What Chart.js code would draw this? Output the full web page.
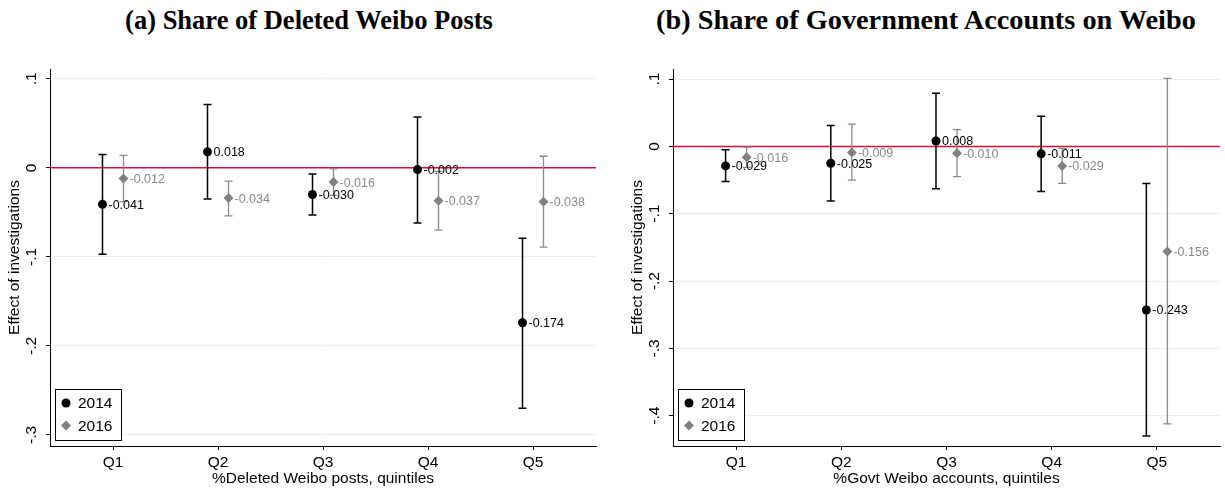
<!DOCTYPE html>
<html>
<head>
<meta charset="utf-8">
<script src="https://cdn.jsdelivr.net/npm/chart.js@4.4.0/dist/chart.umd.min.js"></script>
<style>
  body { margin: 0; background: #fff; width: 1225px; height: 489px; overflow: hidden; position: relative; }
  canvas { position: absolute; top: 0; }
  .ttl { position: absolute; font-family: "Liberation Serif", "Times New Roman", serif; font-weight: bold; line-height: 1; color: #000; white-space: nowrap; transform: translateX(-50%); }
</style>
</head>
<body>
<div class="ttl" style="left:309px; top:7px; font-size:26.5px">(a) Share of Deleted Weibo Posts</div>
<div class="ttl" style="left:926px; top:6px; font-size:28.3px">(b) Share of Government Accounts on Weibo</div>
<canvas id="chartA" width="612" height="489" style="left:0"></canvas>
<canvas id="chartB" width="613" height="489" style="left:612px"></canvas>
<script>
// data
const quintiles = ['Q1', 'Q2', 'Q3', 'Q4', 'Q5'];
const years = ['2014', '2016'];

const deleted2014 = [-0.041, 0.018, -0.030, -0.002, -0.174];
const deleted2014Lo = [-0.097, -0.035, -0.053, -0.062, -0.270];
const deleted2014Hi = [0.015, 0.071, -0.007, 0.057, -0.079];
const deleted2016 = [-0.012, -0.034, -0.016, -0.037, -0.038];
const deleted2016Lo = [-0.038, -0.054, -0.031, -0.070, -0.089];
const deleted2016Hi = [0.014, -0.015, -0.001, -0.004, 0.013];

const govt2014 = [-0.029, -0.025, 0.008, -0.011, -0.243];
const govt2014Lo = [-0.052, -0.081, -0.063, -0.067, -0.430];
const govt2014Hi = [-0.005, 0.031, 0.079, 0.045, -0.055];
const govt2016 = [-0.016, -0.009, -0.010, -0.029, -0.156];
const govt2016Lo = [-0.031, -0.050, -0.045, -0.055, -0.412];
const govt2016Hi = [-0.001, 0.033, 0.025, -0.003, 0.101];

const ticksDeleted = [-0.3, -0.2, -0.1, 0, 0.1];
const ticksGovt = [-0.4, -0.3, -0.2, -0.1, 0, 0.1];

Chart.defaults.font.family = '"Liberation Sans", Arial, sans-serif';
Chart.defaults.font.size = 15.5;
Chart.defaults.color = '#000';

const BLACK = '#000000';
const GREY = '#808080';

// stata style tick labels: .1, 0, -.1
function fmtTick(v) {
    const r = Math.round(v * 10) / 10;
    if (r === 0) return '0';
    return String(r).replace('0.', '.');
}

function makeSet(label, vals, lo, hi, shift, color, style, radius) {
    return {
        label: label,
        data: vals.map((v, i) => ({ x: i + 1 + shift, y: v })),
        lo: lo,
        hi: hi,
        pointStyle: style,
        pointRadius: radius,
        pointBackgroundColor: color,
        pointBorderColor: color,
        pointBorderWidth: 0,
        showLine: false,
        barColor: color === BLACK ? '#000' : '#8a8a8a',
        barWidth: color === BLACK ? 1.5 : 1.3,
        textColor: color === BLACK ? '#000' : '#8a8a8a'
    };
}

// zero line + error bars under the markers, value labels on top, legend box
const extras = {
    id: 'extras',
    beforeDatasetsDraw(chart) {
        const { ctx, chartArea: a, scales: { x, y } } = chart;
        ctx.save();
        ctx.strokeStyle = '#d20f3e';
        ctx.lineWidth = 1.5;
        const y0 = y.getPixelForValue(0);
        ctx.beginPath();
        ctx.moveTo(a.left, y0);
        ctx.lineTo(a.right, y0);
        ctx.stroke();

        chart.data.datasets.forEach(ds => {
            ctx.strokeStyle = ds.barColor;
            ctx.lineWidth = ds.barWidth;
            ds.data.forEach((p, i) => {
                const px = x.getPixelForValue(p.x);
                const top = y.getPixelForValue(ds.hi[i]);
                const bot = y.getPixelForValue(ds.lo[i]);
                ctx.beginPath();
                ctx.moveTo(px, top); ctx.lineTo(px, bot);
                ctx.moveTo(px - 4, top); ctx.lineTo(px + 4, top);
                ctx.moveTo(px - 4, bot); ctx.lineTo(px + 4, bot);
                ctx.stroke();
            });
        });
        ctx.restore();
    },
    afterDatasetsDraw(chart) {
        const { ctx, scales: { x, y } } = chart;
        ctx.save();
        ctx.font = '12.5px "Liberation Sans", Arial, sans-serif';
        ctx.textAlign = 'left';
        ctx.textBaseline = 'middle';
        chart.data.datasets.forEach(ds => {
            ctx.fillStyle = ds.textColor;
            ds.data.forEach(p => {
                ctx.fillText(p.y.toFixed(3), x.getPixelForValue(p.x) + 6, y.getPixelForValue(p.y) + 1);
            });
        });
        ctx.restore();
    },
    afterDraw(chart) {
        const { ctx, chartArea: a } = chart;
        const bx = a.left + 5, by = a.bottom - 57, bw = 66, bh = 51;
        ctx.save();
        ctx.fillStyle = '#fff';
        ctx.fillRect(bx, by, bw, bh);
        ctx.strokeStyle = '#000';
        ctx.lineWidth = 1;
        ctx.strokeRect(bx + 0.5, by + 0.5, bw, bh);
        ctx.font = '15.5px "Liberation Sans", Arial, sans-serif';
        ctx.textBaseline = 'middle';
        chart.data.datasets.forEach((ds, i) => {
            const cx = bx + 11, cy = by + 14 + i * 22.5;
            ctx.fillStyle = ds.pointBackgroundColor;
            ctx.beginPath();
            if (ds.pointStyle === 'circle') {
                ctx.arc(cx, cy, 4.5, 0, Math.PI * 2);
            } else {
                ctx.moveTo(cx, cy - 5); ctx.lineTo(cx + 5, cy);
                ctx.lineTo(cx, cy + 5); ctx.lineTo(cx - 5, cy);
                ctx.closePath();
            }
            ctx.fill();
            ctx.fillStyle = '#000';
            ctx.fillText(ds.label, bx + 23, cy + 1);
        });
        ctx.restore();
    }
};

function buildChart(id, sets, yMin, yMax, yTicks, xTitle, axisW, titlePad, padRight) {
    return new Chart(document.getElementById(id), {
        type: 'scatter',
        data: { datasets: sets },
        options: {
            responsive: false,
            animation: false,
            events: [],
            layout: { padding: { top: 69, right: padRight, left: 0, bottom: 0 } },
            plugins: { legend: { display: false }, tooltip: { enabled: false } },
            scales: {
                x: {
                    type: 'linear',
                    min: 0.4,
                    max: 5.6,
                    afterBuildTicks: s => { s.ticks = quintiles.map((q, i) => ({ value: i + 1 })); },
                    afterFit: s => { s.height = 43; },
                    ticks: {
                        autoSkip: false,
                        maxRotation: 0,
                        padding: 3,
                        color: '#000',
                        callback: v => quintiles[Math.round(v) - 1]
                    },
                    grid: { drawOnChartArea: false, tickColor: '#000', tickLength: 4 },
                    border: { color: '#000', width: 1 },
                    title: { display: true, text: xTitle, color: '#000', padding: { top: 0, bottom: 1 } }
                },
                y: {
                    min: yMin,
                    max: yMax,
                    afterBuildTicks: s => { s.ticks = yTicks.map(v => ({ value: v })); },
                    afterFit: s => { s.width = axisW; },
                    ticks: {
                        minRotation: 90,
                        maxRotation: 90,
                        crossAlign: 'center',
                        padding: 5,
                        color: '#000',
                        callback: v => fmtTick(v)
                    },
                    grid: { color: '#e6eef0', tickColor: '#000', tickLength: 4 },
                    border: { color: '#000', width: 1 },
                    title: { display: true, text: 'Effect of investigations', color: '#000', padding: { top: titlePad, bottom: 0 } }
                }
            }
        },
        plugins: [extras]
    });
}

buildChart('chartA', [
    makeSet(years[0], deleted2014, deleted2014Lo, deleted2014Hi, -0.1, BLACK, 'circle', 4.5),
    makeSet(years[1], deleted2016, deleted2016Lo, deleted2016Hi, 0.1, GREY, 'rectRot', 5)
], -0.3124, 0.111, ticksDeleted, '%Deleted Weibo posts, quintiles', 50, 5, 16);

buildChart('chartB', [
    makeSet(years[0], govt2014, govt2014Lo, govt2014Hi, -0.1, BLACK, 'circle', 4.5),
    makeSet(years[1], govt2016, govt2016Lo, govt2016Hi, 0.1, GREY, 'rectRot', 5)
], -0.445, 0.115, ticksGovt, '%Govt Weibo accounts, quintiles', 61, 16, 3);
</script>
</body>
</html>
